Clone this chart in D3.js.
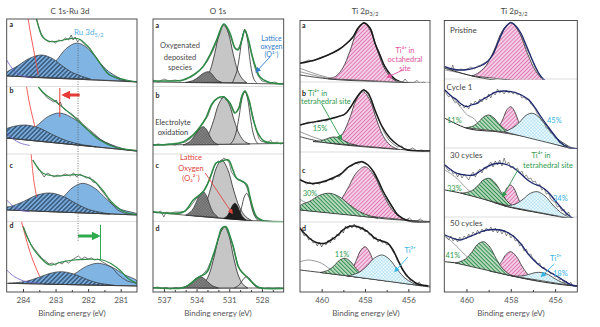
<!DOCTYPE html>
<html>
<head>
<meta charset="utf-8">
<script src="https://cdn.jsdelivr.net/npm/d3@7"></script>
<style>
body { margin: 0; background: #fff; }
svg { display: block; font-family: Lato, "Open Sans", "DejaVu Sans", sans-serif; }
</style>
</head>
<body>
<svg id="chart" width="600" height="327"></svg>
<script>
// ---------- C 1s - Ru 3d (binding energy eV, intensity a.u.) ----------
var ruTicks = [284, 283, 282, 281];
var ruMinor = [283.5, 282.5, 281.5];
var ruRef = 282.31;
var ruBaseline = [
  [[284.5, 11], [282.5, 8], [280.5, 5]],
  [[284.5, 17], [282.5, 10.5], [280.5, 4]],
  [[284.5, 14], [282.5, 11.5], [280.5, 9]],
  [[284.5, 8.7], [282.5, 7.3], [280.5, 6]]
];
var ruHatched = [
  [[284.5, 11], [284.5, 14.4], [284.18, 20.75], [283.805, 28.6], [283.43, 32], [283.105, 28.6], [282.78, 20.75], [282.455, 14], [281.93, 8]],
  [[284.5, 17], [284.5, 26], [284.375, 27.8], [283.94, 30], [283.505, 27], [283.07, 20], [282.635, 14], [282.2, 10.5], [281.75, 8.2]],
  [[284.5, 14], [284.5, 16.8], [284.38, 17.5], [283.98, 22.6], [283.58, 28.8], [283.18, 31], [282.78, 27.8], [282.38, 20.7], [281.98, 14.5], [281.34, 10]],
  [[284.45, 8.7], [283.885, 10.8], [283.53, 14.45], [283.175, 18.6], [282.82, 20.3], [282.465, 18.2], [282.11, 13.55], [281.755, 9.5], [281.19, 6.6]]
];
var ruBlue = [
  [[283.86, 9.7], [283.33, 15], [282.99, 25.9], [282.67, 38.6], [282.34, 44], [282.01, 38.6], [281.68, 25.9], [281.35, 15], [280.82, 6.2], [280.5, 5.5]],
  [[284.5, 17], [283.935, 21.3], [283.58, 29.1], [283.225, 38.5], [282.87, 42], [282.41, 35.7], [281.95, 23.7], [281.49, 13.2], [280.77, 5], [280.5, 4]],
  [[283.56, 12.9], [283.075, 18.2], [282.77, 26.7], [282.465, 36.7], [282.16, 40.7], [281.8, 35.9], [281.44, 25], [281.08, 15.7], [280.5, 10], [280.5, 9]],
  [[283.33, 7.9], [282.765, 11.9], [282.41, 18.3], [282.055, 25.6], [281.7, 28.7], [281.29, 25.1], [280.88, 17.25], [280.5, 11], [280.5, 6]]
];
var ruFit = [
  [[283.62, 72], [283.52, 60], [283.4, 50], [283.18, 45.5], [282.9, 46], [282.51, 48.7], [282.26, 47.7], [282.05, 42], [281.85, 34], [281.6, 22], [281.34, 12], [280.83, 7], [280.5, 5]],
  [[283.53, 68], [283.33, 61], [283.02, 54], [282.72, 46], [282.36, 36], [282.01, 25], [281.65, 15], [281.19, 8], [280.5, 4.5]],
  [[283.7, 64], [283.54, 56], [283.38, 50.7], [283.02, 48], [282.56, 49], [282.26, 49], [281.86, 44], [281.56, 34], [281.28, 22], [280.88, 12], [280.5, 9.5]],
  [[283.99, 65], [283.85, 54], [283.7, 44], [283.48, 35], [283.18, 27], [282.87, 29.5], [282.56, 31.5], [282.05, 32.7], [281.55, 32], [281.28, 28], [281.03, 22], [280.79, 14], [280.5, 8.5]]
];
var ruData = [
  [[283.6, 70], [283.52, 61], [283.45, 54], [283.38, 50], [283.3, 47], [283.2, 45], [283.1, 46], [283.0, 44], [282.9, 47], [282.8, 46], [282.7, 49], [282.6, 47], [282.52, 52], [282.46, 47], [282.4, 50], [282.32, 45], [282.25, 48], [282.15, 44], [282.05, 41], [281.95, 39], [281.85, 33], [281.75, 30], [281.6, 22], [281.45, 16], [281.34, 12], [281.2, 10], [281.0, 7], [280.8, 6], [280.5, 5]],
  [[283.5, 67], [283.42, 63], [283.33, 60], [283.25, 57], [283.15, 55], [283.05, 53], [282.98, 55], [282.9, 50], [282.85, 53], [282.8, 48], [282.7, 45], [282.6, 43], [282.5, 41], [282.4, 38], [282.3, 36], [282.2, 32], [282.1, 29], [281.95, 25], [281.8, 21], [281.65, 16], [281.5, 13], [281.3, 10], [281.1, 7], [280.9, 5.5], [280.7, 5], [280.5, 4.5]],
  [[283.7, 64], [283.55, 56], [283.45, 52], [283.35, 47], [283.25, 51], [283.15, 49], [283.05, 47], [282.95, 49], [282.85, 48], [282.7, 50], [282.55, 48], [282.45, 51], [282.35, 47], [282.25, 50], [282.15, 48], [282.05, 46], [281.95, 47], [281.85, 42], [281.75, 41], [281.6, 34], [281.45, 28], [281.3, 21], [281.1, 14], [280.9, 11], [280.7, 10], [280.5, 9.5]],
  [[284.0, 66], [283.9, 57], [283.8, 50], [283.7, 45], [283.6, 41], [283.5, 37], [283.4, 33], [283.3, 31], [283.2, 28], [283.1, 29], [283.0, 27], [282.9, 30], [282.8, 28], [282.7, 31], [282.6, 29], [282.5, 32], [282.4, 34], [282.3, 36], [282.2, 33], [282.1, 35], [282.0, 33], [281.9, 34], [281.8, 32], [281.7, 33], [281.55, 30], [281.4, 27], [281.25, 24], [281.1, 18], [280.95, 14], [280.8, 11], [280.5, 8.5]]
];
var ruRed = [
  [[283.86, 72], [283.76, 52], [283.63, 30], [283.53, 12]],
  [[283.9, 70], [283.79, 50], [283.63, 28]],
  [[283.75, 70], [283.67, 44], [283.58, 27]],
  [[284.06, 72], [283.85, 47], [283.7, 32], [283.48, 15]]
];
var ruPurple = [
  [[284.5, 27], [284.34, 19], [284.09, 12], [283.7, 9]],
  [[284.5, 22], [284.3, 16], [284.09, 12], [283.79, 9.5]],
  [[284.5, 24], [284.31, 18], [284.09, 14], [283.79, 12.3]],
  [[284.5, 22], [284.25, 15], [283.89, 10.3], [283.48, 8.8]]
];
var ruShiftB = [282.26, 282.74, 282.87];   // arrow from, arrow to, marker line
var ruShiftD = [282.31, 281.7, 281.62];

// ---------- O 1s ----------
var oTicks = [537, 534, 531, 528];
var oMinor = [536, 535, 533, 532, 530, 529, 527];
var oBaseline = [
  [[538, 5], [526, 3]],
  [[538, 10], [526, 11.5]],
  [[538, 12], [535.2, 9], [529, 3.5], [526, 2.5]],
  [[538, 4], [526, 4]]
];
var oDeposit = [
  [[535, 4.6], [534.28, 6.7], [533.83, 9.95], [533.38, 13.7], [532.93, 15.3], [532.655, 13.7], [532.38, 9.95], [532.105, 6.7], [531.67, 4.6]],
  [[535.23, 10], [534.59, 13.7], [534.19, 19.15], [533.79, 25.6], [533.39, 28.3], [533.09, 25.6], [532.79, 19.15], [532.49, 13.7], [532.01, 10.2]],
  [[535.0, 8.8], [534.44, 13.3], [534.09, 20.3], [533.74, 28.6], [533.39, 32.3], [533.09, 28.3], [532.79, 19.3], [532.49, 11.9], [532.0, 6.5]],
  [[535.4, 4], [534.815, 6.4], [534.44, 9.65], [534.065, 13.6], [533.69, 15.3], [533.315, 13.6], [532.94, 9.65], [532.565, 6.4], [532.0, 4]]
];
var oMain = [
  [[533.59, 4.6], [533.19, 8], [532.75, 16.8], [532.33, 33.7], [531.91, 53.6], [531.49, 63], [531.07, 53.6], [530.65, 33.7], [530.23, 16.8], [529.79, 8], [529.39, 4.3]],
  [[533.86, 10.5], [533.39, 13.5], [532.915, 20.6], [532.44, 34.35], [531.965, 50.9], [531.49, 58], [531.015, 50.9], [530.54, 34.35], [530.065, 20.6], [529.59, 13.5], [529.12, 11]],
  [[534.2, 8.1], [533.7, 11.2], [533.2, 19.4], [532.7, 35.8], [532.2, 55.8], [531.7, 64], [531.15, 54.9], [530.6, 34], [530.05, 16.6], [529.5, 7.5], [528.95, 3.5]],
  [[533.8, 4], [533.35, 7.7], [532.875, 16.9], [532.4, 34.65], [531.925, 56.1], [531.45, 65.3], [531.025, 56.1], [530.6, 34.65], [530.175, 16.9], [529.75, 7.7], [529.3, 4]]
];
var oPeroxo = [null, null,
  [[531.5, 5.5], [531.155, 8.6], [530.93, 13.2], [530.705, 18.5], [530.48, 20.7], [530.255, 18.1], [530.03, 12.4], [529.805, 7.6], [529.45, 3.9]],
  null
];
var oLattice = [
  [[530.71, 4.3], [530.31, 15.4], [530.06, 30.65], [529.81, 49.1], [529.56, 57], [529.35, 49.1], [529.14, 30.65], [528.93, 15.4], [528.72, 7.5], [528.5, 4.3]],
  [[530.9, 11], [530.66, 14.2], [530.385, 22.1], [530.11, 37.5], [529.835, 56], [529.56, 64], [529.31, 56], [529.06, 37.5], [528.81, 22.1], [528.56, 14.2], [528.35, 11.2]],
  [[530.43, 4.8], [530.075, 9.8], [529.85, 17.4], [529.625, 26.9], [529.4, 30.7], [529.175, 26.5], [528.95, 16.9], [528.725, 9.1], [528.37, 3.3]],
  [[530.55, 4], [530.15, 6.4], [529.9, 9.65], [529.65, 13.6], [529.4, 15.3], [529.15, 13.6], [528.9, 9.65], [528.65, 6.4], [528.25, 4]]
];
var oFit = [
  [[538, 6], [536.9, 6], [535.25, 7], [534.15, 13], [533.41, 20.3], [532.77, 32], [532.16, 47], [531.49, 63], [530.94, 54], [530.48, 39], [530.2, 37], [529.84, 47], [529.56, 57], [529.19, 45], [528.92, 32], [528.55, 19], [528.18, 10], [527.45, 5], [526, 3]],
  [[538, 10], [535.25, 13], [534.33, 20], [533.69, 28], [533.14, 37], [532.59, 51], [532.04, 57], [531.49, 58], [530.94, 52], [530.48, 42], [530.11, 47], [529.84, 59], [529.56, 64], [529.19, 55], [528.83, 37], [528.37, 22], [527.82, 14], [527.08, 12], [526, 12]],
  [[538, 12.3], [535.22, 12], [534.3, 24], [533.39, 32.3], [532.95, 41], [532.61, 50.7], [532.22, 61], [531.85, 62.3], [531.09, 64], [530.66, 54], [530.32, 45.7], [529.72, 42.3], [529.38, 39], [529.1, 27.3], [528.83, 16], [528.49, 7.3], [527.88, 3.3], [526, 2.3]],
  [[538, 4.3], [535.22, 4.3], [534.6, 8], [534.15, 12], [533.69, 15.5], [533.23, 18], [532.93, 22], [532.59, 33], [532.31, 42], [531.94, 56], [531.7, 63.7], [531.3, 65.3], [530.94, 56], [530.63, 45.3], [530.39, 34], [530.17, 25.3], [529.84, 20], [529.56, 17], [529.19, 13], [528.8, 8.7], [528.37, 5], [527.88, 3.7], [526, 3.5]]
];
var oData = [
  [[538, 7], [537.5, 5], [537, 8], [536.5, 6], [536, 7], [535.5, 6], [535, 8], [534.5, 10], [534, 14], [533.5, 19], [533, 26], [532.5, 36], [532.2, 44], [531.9, 52], [531.6, 62], [531.4, 61], [531.2, 58], [531, 53], [530.8, 48], [530.6, 42], [530.4, 38], [530.2, 38], [530, 42], [529.8, 50], [529.6, 58], [529.4, 52], [529.2, 45], [529, 36], [528.8, 26], [528.6, 18], [528.4, 12], [528.2, 9], [528, 6], [527.6, 5], [527.2, 4], [526.8, 5], [526.4, 3], [526, 4]],
  [[538, 10], [537.5, 11], [537, 10], [536.5, 11], [536, 10], [535.5, 12], [535, 13], [534.5, 17], [534, 22], [533.7, 27], [533.5, 31], [533.2, 36], [533, 38], [532.8, 44], [532.6, 50], [532.4, 53], [532.2, 56], [531.9, 58], [531.7, 56], [531.5, 59], [531.3, 55], [531.1, 54], [530.9, 51], [530.7, 47], [530.5, 42], [530.3, 44], [530.1, 48], [529.9, 57], [529.7, 62], [529.5, 63], [529.3, 58], [529.1, 51], [528.9, 42], [528.7, 32], [528.5, 24], [528.3, 17], [528.1, 14], [527.8, 13], [527.5, 12], [527.2, 15], [527, 12], [526.6, 13], [526.3, 11], [526, 12]],
  [[538, 12], [537.6, 11], [537.3, 13], [537, 7], [536.8, 12], [536.4, 11], [536, 12], [535.5, 12], [535, 13], [534.6, 17], [534.2, 23], [533.9, 27], [533.6, 30], [533.3, 34], [533.1, 38], [532.8, 45], [532.6, 51], [532.4, 57], [532.2, 61], [532, 63], [531.8, 62], [531.5, 66], [531.2, 64], [531, 61], [530.8, 52], [530.6, 49], [530.4, 46], [530.2, 44], [530, 44], [529.8, 42], [529.6, 41], [529.4, 37], [529.2, 30], [529, 22], [528.8, 14], [528.6, 8], [528.3, 4], [528, 3], [527.5, 3], [527, 2.5], [526, 2.5]],
  [[538, 4], [537.6, 5], [537.2, 3.5], [536.8, 4.5], [536.4, 3], [536, 4.5], [535.6, 4], [535.2, 5], [534.8, 6], [534.5, 8], [534.2, 12], [533.9, 14], [533.6, 16], [533.3, 19], [533, 23], [532.8, 28], [532.6, 32], [532.4, 38], [532.2, 46], [532, 53], [531.8, 60], [531.6, 63], [531.4, 66], [531.2, 64], [531, 58], [530.8, 51], [530.6, 44], [530.4, 35], [530.2, 27], [530, 22], [529.8, 19], [529.6, 17], [529.4, 15], [529.2, 13], [529, 10], [528.8, 8], [528.5, 5], [528.2, 4], [527.8, 3.5], [527.4, 4], [527, 3.5], [526.5, 4], [526, 3.5]]
];

// ---------- Ti 2p3/2, electrodes a-d ----------
var tiTicks = [460, 458, 456];
var tiMinor = [459, 457];
var tiBaseline = [
  [[461, 12], [459.5, 7.7], [457.5, 5.5], [455, 3.7]],
  [[461, 18.3], [459.7, 12], [456, 5], [455, 4]],
  [[461, 14], [459, 10], [457, 5], [455, 2.5]],
  [[461, 22], [458, 14], [455, 5]]
];
var tiExtra = [
  [[[461, 18.7], [460.4, 14], [459.8, 10], [459.3, 7.5]], [[461, 15.3], [460.4, 12], [459.8, 9], [459.3, 7.3]]],
  [[[461, 23.3], [460.4, 18], [459.8, 14], [459.3, 12]]],
  [[[461, 24.7], [460.7, 21], [460.3, 17.5], [460, 16]]],
  [[[461, 30.3], [460.63, 32], [460.31, 31], [460, 28.7], [459.75, 25], [459.54, 22], [459.3, 18.5]]]
];
var tiOct = [
  [[459.7, 8.3], [459.35, 10.7], [459.025, 19], [458.7, 35.6], [458.375, 55.5], [458.05, 64], [457.725, 55], [457.4, 34.6], [457.075, 17.4], [456.75, 8.5], [456.4, 4.8]],
  [[459.6, 11.8], [459.32, 14.6], [459.01, 22], [458.7, 37.2], [458.39, 55.7], [458.08, 63.3], [457.77, 54.5], [457.46, 34.9], [457.15, 18.5], [456.84, 9.9], [456.5, 5.9]],
  [[460, 12.5], [459.64, 14.6], [459.23, 21.1], [458.82, 34.45], [458.41, 50.8], [458.0, 57.3], [457.59, 48.8], [457.18, 30.35], [456.77, 14.9], [456.36, 6.4], [455.95, 3.7]],
  [[458.97, 16.6], [458.63, 22.3], [458.42, 30.75], [458.21, 41.2], [458.0, 45.3], [457.79, 40], [457.58, 28.35], [457.37, 18.7], [457.03, 11.1]]
];
var tiTet = [
  null,
  [[460.4, 13.4], [460.055, 14.1], [459.83, 15.6], [459.605, 17.4], [459.38, 18], [459.155, 16.6], [458.93, 13.9], [458.705, 11.6], [458.35, 9.5]],
  [[461, 14], [461, 18.1], [460.54, 22.85], [460.08, 28.8], [459.62, 30.7], [459.16, 26.9], [458.7, 19], [458.24, 12.2], [457.78, 8.2], [457.4, 6]],
  [[460.07, 19.5], [459.67, 22.1], [459.42, 26.4], [459.17, 31.8], [458.92, 33.7], [458.67, 30.4], [458.42, 23.7], [458.17, 18.1], [457.77, 13.3]]
];
var tiLow = [null, null, null,
  [[458.8, 16.1], [458.6, 17.1], [458.25, 19.9], [457.9, 26.3], [457.55, 34.2], [457.2, 37], [456.85, 32.2], [456.5, 22.2], [456.15, 13.8], [455.8, 8.9], [455.4, 6.2]]
];
var tiFit = [
  [[461, 23.7], [460.31, 27], [459.71, 32], [459.25, 37], [458.88, 43], [458.55, 50.3], [458.32, 59], [458.05, 64], [457.77, 59], [457.54, 43.7], [457.31, 32], [457.08, 20.3], [456.62, 8], [456.02, 3.7], [455, 3.5]],
  [[461, 30], [460.63, 32], [459.85, 35], [459.25, 38.3], [458.92, 41], [458.69, 47], [458.46, 55], [458.23, 62], [458.08, 65], [457.86, 62], [457.54, 45], [457.22, 29], [456.85, 17], [456.48, 10], [456.02, 5], [455, 4]],
  [[461, 44], [460.63, 41], [460.31, 40.7], [459.98, 42], [459.71, 44], [459.38, 47], [459.08, 50.7], [458.83, 56], [458.61, 59], [458.42, 61], [458.15, 62.3], [457.86, 59], [457.63, 53], [457.4, 44], [457.17, 33], [456.94, 24], [456.71, 16], [456.48, 9], [456.02, 3.3], [455, 2.3]],
  [[461, 63.7], [460.77, 58], [460.46, 52], [460.17, 49], [459.85, 48.7], [459.57, 52], [459.25, 57], [459.02, 62], [458.78, 65.3], [458.46, 66], [458.15, 63.7], [457.86, 60], [457.54, 53.7], [457.22, 51], [456.94, 48.7], [456.71, 42], [456.48, 32], [456.25, 22], [456.02, 15.3], [455.79, 11], [455.55, 8], [455.09, 6]]
];
var tiData = [
  [[461, 24], [460.8, 25], [460.6, 27], [460.4, 26], [460.2, 28], [460, 30], [459.8, 31], [459.6, 33], [459.4, 35], [459.2, 37], [459, 40], [458.8, 44], [458.6, 48], [458.4, 56], [458.2, 61], [458.05, 65], [457.9, 62], [457.7, 57], [457.5, 42], [457.3, 32], [457.1, 21], [456.9, 13], [456.7, 8], [456.5, 5], [456.3, 4], [456.15, 8], [456, 4], [455.8, 4], [455.6, 6.5], [455.45, 3.5], [455.3, 5], [455.15, 3], [455, 3.5]],
  [[461, 30], [460.8, 31], [460.6, 33], [460.4, 32], [460.2, 34], [460, 35], [459.8, 34], [459.6, 36], [459.4, 37], [459.2, 39], [459, 40], [458.8, 44], [458.6, 50], [458.4, 57], [458.2, 63], [458.05, 66], [457.9, 62], [457.7, 55], [457.5, 42], [457.3, 32], [457.1, 22], [456.9, 15], [456.7, 11], [456.5, 8], [456.3, 9], [456.15, 5], [456, 5], [455.8, 7], [455.6, 4], [455.4, 5], [455.2, 4], [455, 4]],
  [[461, 45], [460.85, 43], [460.7, 40], [460.55, 42], [460.4, 39], [460.25, 41], [460.1, 40], [459.95, 43], [459.8, 42], [459.65, 45], [459.5, 44], [459.35, 48], [459.2, 47], [459.05, 51], [458.9, 53], [458.75, 57], [458.6, 58], [458.45, 61], [458.3, 60], [458.15, 63], [458.05, 62], [457.9, 60], [457.75, 56], [457.6, 52], [457.45, 45], [457.3, 38], [457.15, 32], [457, 27], [456.85, 21], [456.7, 16], [456.55, 11], [456.4, 8], [456.25, 6], [456.1, 4], [455.95, 6], [455.8, 3], [455.6, 3], [455.45, 5], [455.3, 2.5], [455, 2.5]],
  [[461, 65], [460.9, 60], [460.8, 56], [460.7, 58], [460.6, 52], [460.5, 54], [460.4, 49], [460.3, 50], [460.2, 46], [460.1, 50], [460, 45], [459.9, 49], [459.8, 47], [459.7, 52], [459.6, 49], [459.5, 55], [459.4, 52], [459.3, 58], [459.2, 56], [459.1, 62], [459, 59], [458.9, 66], [458.8, 63], [458.7, 67], [458.6, 64], [458.5, 68], [458.4, 64], [458.3, 66], [458.2, 62], [458.1, 65], [458, 60], [457.9, 62], [457.8, 57], [457.7, 58], [457.6, 53], [457.5, 55], [457.4, 50], [457.3, 53], [457.2, 49], [457.1, 51], [457, 47], [456.9, 48], [456.8, 44], [456.7, 40], [456.6, 37], [456.5, 31], [456.4, 28], [456.3, 23], [456.2, 20], [456.1, 16], [456, 15], [455.9, 11], [455.8, 12], [455.7, 9], [455.6, 8], [455.5, 10], [455.4, 7], [455.3, 6], [455.2, 7], [455, 6]]
];

// ---------- Ti 2p3/2, cycling ----------
var cyTicks = [460, 458, 456];
var cyMinor = [459, 457];
var cyNames = ["Pristine", "Cycle 1", "30 cycles", "50 cycles"];
var cyBaseline = [
  [[460.97, 18.7], [459.6, 10.3], [458.15, 5.3], [456.63, 3], [455.12, 1], [454.9, 1]],
  [[460.97, 36.7], [459.98, 26.7], [459.06, 24], [458.15, 23.3], [456.63, 15], [455.11, 5.7], [454.9, 5.5]],
  [[460.97, 34], [460.21, 30.7], [459.37, 26], [458.15, 17.3], [456.63, 10.7], [455.11, 4.7], [454.9, 4.5]],
  [[460.97, 30.3], [460.36, 28.7], [459.37, 24], [458.15, 17], [456.63, 10.3], [455.11, 6], [454.9, 6]]
];
var cyExtra = [
  [[460.97, 17], [460.28, 14], [459.6, 10.3]],
  [[460.97, 65], [460.65, 58], [460.28, 48.3], [459.96, 40], [459.68, 36.7], [459.3, 25.5]],
  [[460.97, 54], [460.69, 50], [460.43, 45.7], [460.15, 39], [459.83, 32.3], [459.6, 28.5]],
  [[460.97, 55.3], [460.69, 51], [460.43, 45.3], [460.19, 40], [459.98, 35.3], [459.74, 31], [459.5, 26]]
];
var cyOct = [
  [[459.75, 11.2], [459.5, 13.6], [459.125, 21.1], [458.75, 37], [458.375, 56.4], [458.0, 64.3], [457.625, 54.8], [457.25, 33.6], [456.875, 15.8], [456.5, 6.4], [456.2, 2.4]],
  [[458.8, 23.8], [458.525, 29], [458.35, 36.3], [458.175, 45.2], [458.0, 48.3], [457.825, 43.4], [457.65, 33.5], [457.475, 25], [457.2, 18.1]],
  [[458.75, 21.5], [458.48, 24.3], [458.32, 29.6], [458.16, 36.4], [458.0, 39], [457.84, 35], [457.68, 26.5], [457.52, 19.3], [457.25, 13.4]],
  [[458.95, 20.8], [458.63, 24.3], [458.42, 30.3], [458.21, 37.7], [458.0, 40.3], [457.75, 35.6], [457.5, 26.1], [457.25, 18], [456.85, 11.3]]
];
var cyTet = [
  null,
  [[460.03, 27.2], [459.675, 29.2], [459.45, 33.1], [459.225, 38.1], [459.0, 40], [458.775, 37.4], [458.55, 31.6], [458.325, 26.8], [457.97, 22.3]],
  [[460.25, 30.9], [460.05, 31.3], [459.775, 33.1], [459.5, 38], [459.225, 44.3], [458.95, 45.6], [458.675, 40.2], [458.4, 30.4], [458.125, 21.9], [457.85, 17.4], [457.6, 15.2]],
  [[460.5, 29], [460.32, 30.1], [460.045, 32.9], [459.77, 39.5], [459.495, 47.7], [459.22, 50.3], [458.945, 44.9], [458.67, 33.8], [458.395, 24.1], [458.12, 18.5], [457.9, 15.9]]
];
var cyLow = [
  null,
  [[458.3, 23.2], [457.91, 27.2], [457.61, 32.7], [457.31, 39.7], [457.01, 41.7], [456.635, 35.9], [456.26, 25.3], [455.885, 16.1], [455.51, 10.4], [455.2, 6.2]],
  [[458.3, 18.2], [458.1, 18.4], [457.775, 20.1], [457.45, 24.75], [457.125, 30.6], [456.8, 32.3], [456.45, 27.8], [456.1, 19], [455.75, 11.6], [455.4, 7.1], [455.1, 4.7]],
  [[457.9, 15.9], [457.5, 16.1], [457.2, 17.45], [456.9, 19.4], [456.6, 19.5], [456.3, 17.3], [456.0, 13.15], [455.7, 9.7], [455.3, 6.5]]
];
var cyFit = [
  [[460.97, 20.3], [460.65, 18], [460.28, 17], [459.96, 17.5], [459.69, 18.7], [459.37, 21], [459.06, 25.3], [458.82, 32], [458.53, 47], [458.27, 59], [458, 64.3], [457.77, 61], [457.54, 53.7], [457.31, 42], [457.09, 30.3], [456.86, 19], [456.63, 10.3], [456.36, 5], [456.02, 2], [454.95, 1]],
  [[460.97, 65], [460.69, 59], [460.43, 55], [460.24, 51], [459.98, 48.3], [459.78, 50], [459.52, 51.7], [459.32, 55], [459.06, 58.3], [458.86, 61], [458.61, 63.3], [458.32, 64], [458, 63.3], [457.68, 61.5], [457.39, 58.3], [457.18, 55], [456.94, 48.3], [456.63, 38], [456.32, 28.3], [456.04, 20], [455.72, 11.7], [455.44, 8], [455.11, 6.7], [454.94, 6]],
  [[460.97, 59], [460.69, 54], [460.43, 50.7], [460.05, 49], [459.68, 49], [459.37, 53], [459.06, 57.3], [458.78, 60], [458.46, 60.7], [458.14, 59], [457.85, 55.7], [457.54, 50], [457.24, 44], [456.95, 40], [456.63, 37.3], [456.32, 32], [456.02, 24], [455.72, 16], [455.41, 9], [455.17, 5.5], [454.95, 4.7]],
  [[460.97, 57], [460.65, 54], [460.28, 52], [460.01, 54], [459.68, 57], [459.37, 60], [459.06, 62], [458.78, 62.5], [458.46, 62], [458.14, 59.5], [457.85, 55.3], [457.54, 48], [457.24, 38.7], [456.95, 31.5], [456.63, 25.3], [456.32, 21], [456.02, 17], [455.72, 13], [455.41, 8.7], [455.17, 6.5], [454.95, 6]]
];
var cyData = [
  [[461, 20], [460.85, 19], [460.7, 17], [460.62, 22], [460.55, 17], [460.4, 16], [460.25, 18], [460.1, 17], [459.95, 18], [459.8, 20], [459.65, 18], [459.5, 21], [459.35, 22], [459.2, 24], [459.05, 26], [458.9, 29], [458.75, 35], [458.6, 43], [458.45, 51], [458.3, 58], [458.15, 62], [458, 65], [457.85, 62], [457.7, 58], [457.55, 52], [457.4, 45], [457.25, 37], [457.1, 30], [456.95, 22], [456.8, 15], [456.65, 10], [456.5, 6], [456.35, 4], [456.2, 3], [456.05, 2], [455.95, 6], [455.85, 2], [455.7, 1.5], [455.55, 2], [455.4, 5], [455.3, 1.5], [455.1, 1.5], [455, 1]],
  [[461, 66], [460.9, 61], [460.8, 58], [460.7, 60], [460.6, 55], [460.5, 52], [460.4, 54], [460.3, 49], [460.2, 51], [460.1, 47], [460, 50], [459.9, 46], [459.8, 52], [459.7, 50], [459.6, 54], [459.5, 51], [459.4, 56], [459.3, 53], [459.2, 58], [459.1, 55], [459, 61], [458.9, 57], [458.8, 63], [458.7, 60], [458.6, 66], [458.5, 62], [458.4, 64], [458.3, 61], [458.2, 65], [458.1, 62], [458, 64], [457.9, 61], [457.8, 63], [457.7, 60], [457.6, 61], [457.5, 57], [457.4, 58], [457.3, 55], [457.2, 56], [457.1, 51], [457, 49], [456.9, 46], [456.8, 41], [456.7, 39], [456.6, 34], [456.5, 32], [456.4, 27], [456.3, 26], [456.2, 22], [456.1, 21], [456, 17], [455.9, 16], [455.8, 12], [455.7, 13], [455.6, 9], [455.5, 10], [455.4, 7], [455.3, 8], [455.2, 6], [455, 6]],
  [[461, 60], [460.9, 56], [460.8, 53], [460.7, 55], [460.6, 50], [460.5, 52], [460.4, 47], [460.3, 51], [460.2, 46], [460.1, 50], [460, 47], [459.9, 44], [459.8, 49], [459.7, 52], [459.6, 47], [459.5, 52], [459.4, 55], [459.3, 51], [459.2, 57], [459.1, 55], [459, 59], [458.9, 62], [458.8, 57], [458.7, 63], [458.6, 59], [458.5, 64], [458.4, 58], [458.3, 66], [458.2, 59], [458.1, 62], [458, 56], [457.9, 58], [457.8, 54], [457.7, 56], [457.6, 51], [457.5, 53], [457.4, 47], [457.3, 49], [457.2, 45], [457.1, 46], [457, 42], [456.9, 43], [456.8, 38], [456.7, 40], [456.6, 34], [456.5, 36], [456.4, 30], [456.3, 31], [456.2, 25], [456.1, 23], [456, 22], [455.9, 17], [455.8, 18], [455.7, 13], [455.6, 15], [455.5, 9], [455.4, 12], [455.3, 7], [455.2, 6], [455, 5]],
  [[461, 58], [460.9, 55], [460.8, 52], [460.7, 56], [460.6, 51], [460.5, 54], [460.4, 50], [460.3, 55], [460.2, 52], [460.1, 56], [460, 53], [459.9, 58], [459.8, 55], [459.7, 60], [459.6, 57], [459.5, 62], [459.4, 58], [459.3, 63], [459.2, 60], [459.1, 64], [459, 61], [458.9, 65], [458.8, 60], [458.7, 64], [458.6, 59], [458.5, 63], [458.4, 58], [458.3, 62], [458.2, 56], [458.1, 60], [458, 54], [457.9, 57], [457.8, 51], [457.7, 52], [457.6, 46], [457.5, 48], [457.4, 41], [457.3, 43], [457.2, 37], [457.1, 38], [457, 33], [456.9, 32], [456.8, 28], [456.7, 29], [456.6, 24], [456.5, 25], [456.4, 21], [456.3, 22], [456.2, 18], [456.1, 19], [456, 15], [455.9, 16], [455.8, 12], [455.7, 13], [455.6, 9], [455.5, 11], [455.4, 7], [455.3, 10], [455.2, 6], [455, 6]]
];

// ---------- layout ----------
var svg = d3.select("#chart");
var defs = svg.append("defs");
var subBottoms = [87, 155, 224, 292];
var yS = subBottoms.map(function (b) {
  return d3.scaleLinear().domain([0, 68]).range([b, b - 68]);
});
var panels = [
  { x0: 6.7, x1: 137, top: 19, dom: [284.5, 280.5], ticks: ruTicks, minor: ruMinor, titleX: 70, labelX: 72, div: [86.5, 154, 221.5], letterX: 9.5, letterY: [26.5, 92.5, 167.5, 228] },
  { x0: 153, x1: 283.7, top: 19, dom: [538, 526], ticks: oTicks, minor: oMinor, titleX: 218, labelX: 218, div: [86.5, 154, 221.5], letterX: 155.5, letterY: [27.5, 98, 167.5, 231] },
  { x0: 300, x1: 430, top: 20.5, dom: [461, 455], ticks: tiTicks, minor: tiMinor, titleX: 365, labelX: 366, div: [82, 152, 222], letterX: 302, letterY: [27.5, 96, 172.5, 231] },
  { x0: 444.3, x1: 577.3, top: 20.5, dom: [461, 455], ticks: cyTicks, minor: cyMinor, titleX: 514, labelX: 511, div: [79, 148, 217], letterX: 0, letterY: [] }
];
panels.forEach(function (p) {
  p.x = d3.scaleLinear().domain(p.dom).range([p.x0, p.x1]);
});

function addStripes(id, bg, fg, w, gap, angle) {
  var pat = defs.append("pattern").attr("id", id).attr("patternUnits", "userSpaceOnUse")
    .attr("width", gap).attr("height", gap).attr("patternTransform", "rotate(" + angle + ")");
  pat.append("rect").attr("width", gap).attr("height", gap).attr("fill", bg);
  pat.append("line").attr("x1", gap / 2).attr("y1", 0).attr("x2", gap / 2).attr("y2", gap)
    .attr("stroke", fg).attr("stroke-width", w);
}
function addCross(id, bg, fg, w, gap) {
  var pat = defs.append("pattern").attr("id", id).attr("patternUnits", "userSpaceOnUse")
    .attr("width", gap).attr("height", gap).attr("patternTransform", "rotate(45)");
  pat.append("rect").attr("width", gap).attr("height", gap).attr("fill", bg);
  pat.append("line").attr("x1", 0).attr("y1", 0).attr("x2", 0).attr("y2", gap).attr("stroke", fg).attr("stroke-width", w);
  pat.append("line").attr("x1", 0).attr("y1", 0).attr("x2", gap).attr("y2", 0).attr("stroke", fg).attr("stroke-width", w);
}
addStripes("hBlue", "#79acdc", "#1f3a58", 1.1, 3.2, 45);
addStripes("hPink", "#f8dcec", "#df78b6", 1.2, 2.8, 45);
addStripes("hGreen", "#ffffff", "#2f8f4a", 1.6, 2.8, -45);
addCross("xBlue", "#eef9fd", "#8ed3ec", 0.7, 2.4);
addCross("xGray", "#8e8e8e", "#3c3c3c", 0.6, 2);

function addArrow(id, color, size) {
  defs.append("marker").attr("id", id).attr("viewBox", "0 0 10 10")
    .attr("refX", 7).attr("refY", 5).attr("markerWidth", size).attr("markerHeight", size)
    .attr("orient", "auto").append("path").attr("d", "M0,0L10,5L0,10z").attr("fill", color);
}
addArrow("aRed", "#e53a35", 3);
addArrow("aGreen", "#2eaa4f", 3);
addArrow("aBlue", "#2f7ccc", 6);
addArrow("aRedThin", "#e0453c", 6);
addArrow("aPink", "#e0509e", 6);
addArrow("aGreenThin", "#2f9a4c", 6);
addArrow("aCyan", "#35b3e6", 6);

function smooth(p, s) {
  return d3.line().x(function (d) { return p.x(d[0]); }).y(function (d) { return yS[s](d[1]); })
    .curve(d3.curveCatmullRom.alpha(0.5));
}
function jagged(p, s) {
  return d3.line().x(function (d) { return p.x(d[0]); }).y(function (d) { return yS[s](d[1]); });
}
function peak(g, gen, pts, fill, stroke, sw) {
  if (!pts) return;
  g.append("path").attr("d", gen(pts) + "Z").attr("fill", fill)
    .attr("stroke", stroke).attr("stroke-width", sw).attr("stroke-linejoin", "round");
}
function trace(g, gen, pts, stroke, sw) {
  if (!pts) return;
  g.append("path").attr("d", gen(pts)).attr("fill", "none")
    .attr("stroke", stroke).attr("stroke-width", sw).attr("stroke-linejoin", "round");
}
function arrow(g, p, s, from, to, color, sw, marker) {
  g.append("line").attr("x1", p.x(from[0])).attr("y1", yS[s](from[1]))
    .attr("x2", p.x(to[0])).attr("y2", yS[s](to[1]))
    .attr("stroke", color).attr("stroke-width", sw).attr("marker-end", "url(#" + marker + ")");
}
function label(x, y, txt, color, size, anchor) {
  return svg.append("text").attr("x", x).attr("y", y).attr("fill", color)
    .attr("font-size", size).attr("text-anchor", anchor || "start").text(txt);
}

// sub-panel groups with clipping
var groups = panels.map(function (p, pi) {
  var edges = [p.top].concat(p.div).concat([292]);
  return [0, 1, 2, 3].map(function (s) {
    var id = "clip" + pi + s;
    defs.append("clipPath").attr("id", id).append("rect")
      .attr("x", p.x0).attr("y", edges[s]).attr("width", p.x1 - p.x0).attr("height", edges[s + 1] - edges[s] + 1);
    return svg.append("g").attr("clip-path", "url(#" + id + ")");
  });
});

// ---- panel 1: C 1s - Ru 3d ----
(function () {
  var p = panels[0];
  for (var s = 0; s < 4; s++) {
    var g = groups[0][s], sm = smooth(p, s);
    peak(g, sm, ruBlue[s], "#80b4e3", "#333", 0.7);
    peak(g, sm, ruHatched[s], "url(#hBlue)", "#333", 0.7);
    trace(g, sm, ruBaseline[s], "#3a3a3a", 0.9);
    trace(g, sm, ruPurple[s], "#6a58c0", 0.8);
    trace(g, sm, ruRed[s], "#ef4a45", 0.9);
    trace(g, jagged(p, s), ruData[s], "#3a3a3a", 0.7);
    trace(g, sm, ruFit[s], "#2e8b46", 1.2);
  }
  svg.append("line").attr("x1", p.x(ruRef)).attr("x2", p.x(ruRef))
    .attr("y1", yS[0](44)).attr("y2", yS[3](50))
    .attr("stroke", "#555").attr("stroke-width", 0.8).attr("stroke-dasharray", "1,1.4");
  var gb = groups[0][1];
  gb.append("line").attr("x1", p.x(ruShiftB[2])).attr("x2", p.x(ruShiftB[2]))
    .attr("y1", yS[1](67)).attr("y2", yS[1](38)).attr("stroke", "#e53a35").attr("stroke-width", 1);
  arrow(gb, p, 1, [ruShiftB[0], 60], [ruShiftB[1], 60], "#e53a35", 3, "aRed");
  var gd = groups[0][3];
  gd.append("line").attr("x1", p.x(ruShiftD[2])).attr("x2", p.x(ruShiftD[2]))
    .attr("y1", yS[3](67)).attr("y2", yS[3](32)).attr("stroke", "#2eaa4f").attr("stroke-width", 1);
  arrow(gd, p, 3, [ruShiftD[0], 56], [ruShiftD[1], 56], "#2eaa4f", 3, "aGreen");
  var t = label(74, 35, "Ru 3d", "#55aee6", 8);
  t.append("tspan").attr("font-size", 5.5).attr("dy", 2).text("5/2");
})();

// ---- panel 2: O 1s ----
(function () {
  var p = panels[1];
  for (var s = 0; s < 4; s++) {
    var g = groups[1][s], sm = smooth(p, s);
    trace(g, sm, oBaseline[s], "#333", 0.8);
    peak(g, sm, oMain[s], "#c6c6c6", "#2a2a2a", 0.8);
    trace(g, sm, oLattice[s], "#2a2a2a", 0.8);
    peak(g, sm, oDeposit[s], "url(#xGray)", "#2a2a2a", 0.7);
    peak(g, sm, oPeroxo[s], "#1e1e1e", "#111", 0.7);
    trace(g, jagged(p, s), oData[s], "#333", 0.6);
    trace(g, sm, oFit[s], "#2e8b46", 1.6);
  }
  ["Oxygenated", "deposited", "species"].forEach(function (w, i) {
    label(180, [47.5, 59.5, 70][i], w, "#4a4a4a", 7.5, "middle");
  });
  ["Lattice", "oxygen", "(O\u00B2\u207B)"].forEach(function (w, i) {
    label(271.5, [41, 48.5, 56.5][i], w, "#2f7ccc", 7, "middle");
  });
  arrow(groups[1][0], p, 0, [527.27, 30], [528.5, 15.5], "#2f7ccc", 0.9, "aBlue");
  ["Electrolyte", "oxidation"].forEach(function (w, i) {
    label(173, [125, 135][i], w, "#3a3a3a", 7.5, "middle");
  });
  ["Lattice", "Oxygen", "(O\u2082\u00B2\u207B)"].forEach(function (w, i) {
    label(191, [159.5, 170.5, 181][i], w, "#e0453c", 7.5, "middle");
  });
  arrow(svg, p, 2, [533.2, 51], [530.75, 11], "#e0453c", 0.9, "aRedThin");
})();

// ---- panel 3: Ti 2p3/2 electrodes ----
(function () {
  var p = panels[2];
  for (var s = 0; s < 4; s++) {
    var g = groups[2][s], sm = smooth(p, s);
    tiExtra[s].forEach(function (e) { trace(g, sm, e, "#555", 0.6); });
    trace(g, sm, tiBaseline[s], "#333", 0.9);
    peak(g, sm, tiOct[s], "url(#hPink)", "#333", 0.8);
    peak(g, sm, tiTet[s], "url(#hGreen)", "#333", 0.8);
    peak(g, sm, tiLow[s], "url(#xBlue)", "#333", 0.8);
    trace(g, jagged(p, s), tiData[s], "#333", 0.6);
    trace(g, sm, tiFit[s], "#1a1a1a", 1.5);
  }
  ["Ti\u2074\u207A in", "octahedral", "site"].forEach(function (w, i) {
    label(405, [53, 62, 71][i], w, "#e0509e", 7.5, "middle");
  });
  arrow(groups[2][0], p, 0, [456.25, 17], [456.95, 10], "#e0509e", 0.9, "aPink");
  label(308, 96, "Ti\u2074\u207A in", "#2f9a4c", 7.5);
  label(301, 103.5, "tetrahedral site", "#2f9a4c", 7.5);
  label(320, 131, "15%", "#2f9a4c", 7.5, "middle");
  arrow(svg, p, 1, [460.0, 51], [459.1, 16.5], "#2f9a4c", 0.9, "aGreenThin");
  label(310, 196, "30%", "#2f9a4c", 7.5, "middle");
  label(342, 257, "11%", "#2f9a4c", 7.5, "middle");
  label(410, 252.5, "Ti\u00B3\u207A", "#35b3e6", 7.5, "middle");
  arrow(groups[2][3], p, 3, [456.02, 35], [456.6, 21], "#35b3e6", 0.9, "aCyan");
})();

// ---- panel 4: Ti 2p3/2 cycling ----
(function () {
  var p = panels[3];
  for (var s = 0; s < 4; s++) {
    var g = groups[3][s], sm = smooth(p, s);
    trace(g, sm, cyExtra[s], "#888", 0.8);
    trace(g, sm, cyBaseline[s], "#2a2a2a", 1);
    peak(g, sm, cyOct[s], "url(#hPink)", "#333", 0.8);
    peak(g, sm, cyTet[s], "url(#hGreen)", "#333", 0.8);
    peak(g, sm, cyLow[s], "url(#xBlue)", "#333", 0.8);
    trace(g, jagged(p, s), cyData[s], "#444", 0.6);
    trace(g, sm, cyFit[s], "#1f2a6e", 1.3);
  }
  [33, 90, 158, 226].forEach(function (y, i) {
    label(i === 1 ? 446.5 : 450, y, cyNames[i], "#444", 8);
  });
  label(447, 123, "11%", "#2f9a4c", 7.5);
  label(547, 123, "45%", "#35b3e6", 7.5);
  label(541, 157.5, "Ti\u2074\u207A in", "#2f9a4c", 7.5, "middle");
  label(548, 167.5, "tetrahedral site", "#2f9a4c", 7.5, "middle");
  arrow(svg, p, 2, [457.68, 54], [458.35, 28], "#2f9a4c", 0.9, "aGreenThin");
  label(447, 191, "33%", "#2f9a4c", 7.5);
  label(553, 201, "34%", "#35b3e6", 7.5);
  label(445.5, 257.5, "41%", "#2f9a4c", 7.5);
  label(550, 260.5, "Ti\u00B3\u207A", "#35b3e6", 7.5);
  label(553, 276, "18%", "#35b3e6", 7.5);
  arrow(groups[3][3], p, 3, [456.04, 28], [456.6, 16], "#35b3e6", 0.9, "aCyan");
})();

// ---- frames, dividers, axes, titles ----
panels.forEach(function (p, pi) {
  p.div.forEach(function (y) {
    svg.append("line").attr("x1", p.x0).attr("x2", p.x1).attr("y1", y).attr("y2", y)
      .attr("stroke", "#c8c8c8").attr("stroke-width", 0.6);
  });
  svg.append("rect").attr("x", p.x0).attr("y", p.top).attr("width", p.x1 - p.x0).attr("height", 292 - p.top)
    .attr("fill", "none").attr("stroke", "#3c3c3c").attr("stroke-width", 0.9);
  var ax = svg.append("g").attr("transform", "translate(0,292)")
    .call(d3.axisBottom(p.x).tickValues(p.ticks).tickSize(-3).tickPadding(5).tickFormat(d3.format("d")));
  ax.select(".domain").remove();
  ax.selectAll("line").attr("stroke", "#3c3c3c");
  ax.selectAll("text").attr("font-size", 8).attr("fill", "#555").attr("font-family", "Lato, 'Open Sans', sans-serif");
  var mx = svg.append("g").attr("transform", "translate(0,292)")
    .call(d3.axisBottom(p.x).tickValues(p.minor).tickSize(-2).tickFormat(""));
  mx.select(".domain").remove();
  mx.selectAll("line").attr("stroke", "#3c3c3c");
  label(p.labelX, 315.5, "Binding energy (eV)", "#555", 8, "middle");
  p.letterY.forEach(function (y, i) {
    label(p.letterX, y, "abcd"[i], "#222", 7, "start").attr("font-weight", "bold");
  });
});
label(70, 14, "C 1s-Ru 3d", "#444", 8, "middle");
label(218, 14, "O 1s", "#444", 8, "middle");
[365, 514].forEach(function (cx) {
  var t = label(cx, 14, "Ti 2p", "#444", 8, "middle");
  t.append("tspan").attr("font-size", 5.5).attr("dy", 2).text("3/2");
});
</script>
</body>
</html>
